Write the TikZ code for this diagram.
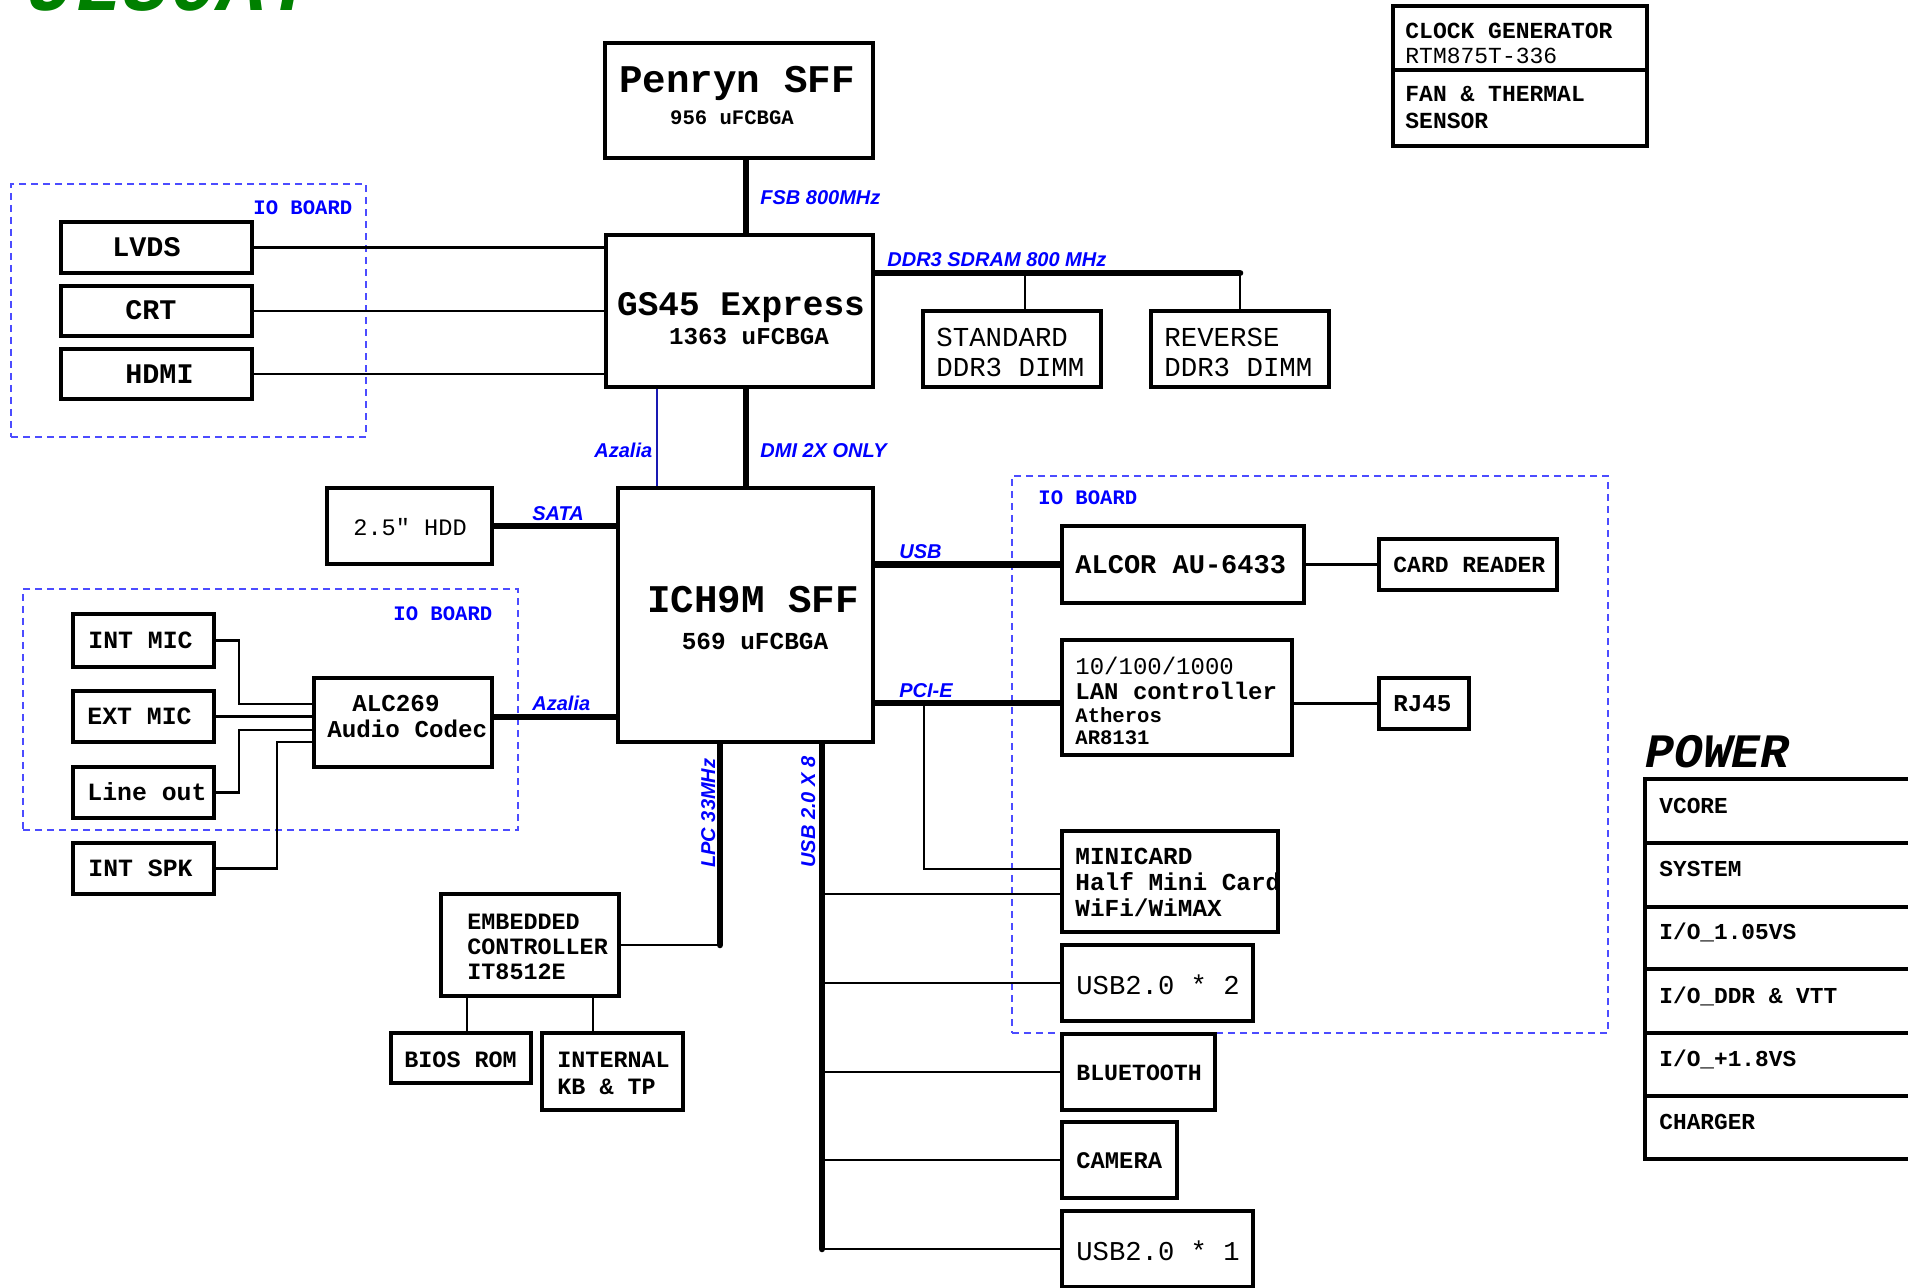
\documentclass[tikz,border=0pt]{standalone}
\usepackage{fontspec}
\usetikzlibrary{fit,calc}
\newfontfamily\mono{Liberation Mono}
\newfontfamily\lsans{Liberation Sans}
\newcommand\fs[1]{\fontsize{#1}{#1}\selectfont}
\newcommand\mkbox[3]{\node[box,fit={#2 #3}] (#1) {};}
\definecolor{iobcol}{rgb}{0.3,0.3,1}
\definecolor{azcol}{rgb}{0.1,0.1,0.7}
\definecolor{titlegreen}{rgb}{0,0.5,0}
\begin{document}
\begin{tikzpicture}[x=0.5pt,y=-0.5pt,
  box/.style={draw,line width=1.75pt,inner sep=0pt},
  iob/.style={draw=iobcol,line width=0.8pt,dash pattern=on 3.5pt off 2.5pt,inner sep=0pt},
  bus/.style={line width=3.3pt,line cap=round},
  wire/.style={line width=1.4pt},
  azl/.style={draw=azcol,line width=1.4pt},
  txt/.style={inner sep=0pt,anchor=base west,font=\mono\bfseries\fs{11.7}},
  rtxt/.style={inner sep=0pt,anchor=base west,font=\mono\fs{11.7}},
  lbl/.style={inner sep=0pt,anchor=base west,text=blue,font=\lsans\bfseries\itshape\fs{10}},
  iol/.style={inner sep=0pt,anchor=base west,text=blue,font=\mono\bfseries\fs{10.3}},
]
\useasboundingbox (0,0) rectangle (1908,1288);
\clip (0,0) rectangle (1908,1288);

% title (cut off at the top edge, as in the reference)
\node[inner sep=0pt,anchor=base west,text=titlegreen,font=\mono\bfseries\itshape\fs{40}] (title) at (26,11) {UL30AT};

% IO board frames
\node[iob,fit={(11,184) (366,437)}] (io1) {};
\node[iob,fit={(23,589) (518,830)}] (io2) {};
\node[iob,fit={(1012,476) (1608,1033)}] (io3) {};
\node[iol] (io1t) at (253,215) {IO BOARD};
\node[iol] (io2t) at (393,621) {IO BOARD};
\node[iol] (io3t) at (1038,505) {IO BOARD};

% boxes
\mkbox{penryn}{(605,43)}{(873,158)}
\mkbox{gs45}{(606,235)}{(873,387)}
\mkbox{lvds}{(61,222)}{(252,273)}
\mkbox{crt}{(61,286)}{(252,336)}
\mkbox{hdmi}{(61,349)}{(252,399)}
\mkbox{stddimm}{(923,311)}{(1101,387)}
\mkbox{revdimm}{(1151,311)}{(1329,387)}
\mkbox{ich}{(618,488)}{(873,742)}
\mkbox{hdd}{(327,488)}{(492,564)}
\mkbox{intmic}{(73,614)}{(214,667)}
\mkbox{extmic}{(73,691)}{(214,742)}
\mkbox{lineout}{(73,767)}{(214,818)}
\mkbox{intspk}{(73,843)}{(214,894)}
\mkbox{alc}{(314,678)}{(492,767)}
\mkbox{alcor}{(1062,526)}{(1304,603)}
\mkbox{cardrd}{(1379,539)}{(1557,590)}
\mkbox{lan}{(1062,640)}{(1292,755)}
\mkbox{rj45}{(1379,678)}{(1469,729)}
\mkbox{minicard}{(1062,831)}{(1278,932)}
\mkbox{usb2}{(1062,945)}{(1253,1021)}
\mkbox{bt}{(1062,1034)}{(1215,1110)}
\mkbox{cam}{(1062,1122)}{(1177,1198)}
\mkbox{usb1}{(1062,1211)}{(1253,1287)}
\mkbox{ec}{(441,894)}{(619,996)}
\mkbox{bios}{(391,1033)}{(531,1083)}
\mkbox{kb}{(542,1033)}{(683,1110)}
\mkbox{clock}{(1393,6)}{(1647,70)}
\mkbox{fan}{(1393,70)}{(1647,146)}
\mkbox{pw1}{(1645,779)}{(1940,843)}
\mkbox{pw2}{(1645,843)}{(1940,907)}
\mkbox{pw3}{(1645,907)}{(1940,969)}
\mkbox{pw4}{(1645,969)}{(1940,1033)}
\mkbox{pw5}{(1645,1033)}{(1940,1096)}
\mkbox{pw6}{(1645,1096)}{(1940,1159)}

% texts
\node[txt,anchor=base,font=\mono\bfseries\fs{19.6}] (tpen1) at (737,93) {Penryn SFF};
\node[txt,anchor=base,font=\mono\bfseries\fs{10.3}] (tpen2) at (732,125) {956 uFCBGA};
\node[txt,anchor=base,font=\mono\bfseries\fs{17.2}] (tgs1) at (741,316) {GS45 Express};
\node[txt,anchor=base,font=\mono\bfseries\fs{12.1}] (tgs2) at (749,345) {1363 uFCBGA};
\node[rtxt,font=\mono\fs{13.7}] (tstd1) at (936,347) {STANDARD};
\node[rtxt,font=\mono\fs{13.7}] (tstd2) at (936,377) {DDR3 DIMM};
\node[rtxt,font=\mono\fs{13.7}] (trev1) at (1164,347) {REVERSE};
\node[rtxt,font=\mono\fs{13.7}] (trev2) at (1164,377) {DDR3 DIMM};
\node[txt,font=\mono\bfseries\fs{14.2}] (tlvds) at (112,257) {LVDS};
\node[txt,font=\mono\bfseries\fs{14.2}] (tcrt) at (125,320) {CRT};
\node[txt,font=\mono\bfseries\fs{14.2}] (thdmi) at (125,384) {HDMI};
\node[txt,anchor=base,font=\mono\bfseries\fs{19.6}] (tich1) at (753,613) {ICH9M SFF};
\node[txt,anchor=base,font=\mono\bfseries\fs{12.2}] (tich2) at (755,650) {569 uFCBGA};
\node[rtxt,font=\mono\fs{11.8}] (thdd) at (353,536) {2.5" HDD};
\node[txt,font=\mono\bfseries\fs{12.4}] (tintmic) at (88,649) {INT MIC};
\node[txt,font=\mono\bfseries\fs{12.4}] (textmic) at (87,725) {EXT MIC};
\node[txt,font=\mono\bfseries\fs{12.4}] (tlineout) at (87,801) {Line out};
\node[txt,font=\mono\bfseries\fs{12.4}] (tintspk) at (88,877) {INT SPK};
\node[txt,font=\mono\bfseries\fs{12.1}] (talc1) at (352,712) {ALC269};
\node[txt,font=\mono\bfseries\fs{12.1}] (talc2) at (327,738) {Audio Codec};
\node[txt,font=\mono\bfseries\fs{13.5}] (talcor) at (1075,574) {ALCOR AU-6433};
\node[txt,font=\mono\bfseries\fs{11.5}] (tcard) at (1393,573) {CARD READER};
\node[rtxt,font=\mono\fs{12}] (tlan1) at (1075,675) {10/100/1000};
\node[txt,font=\mono\bfseries\fs{12}] (tlan2) at (1075,700) {LAN controller};
\node[txt,font=\mono\bfseries\fs{10.3}] (tlan3) at (1075,723) {Atheros};
\node[txt,font=\mono\bfseries\fs{10.3}] (tlan4) at (1075,745) {AR8131};
\node[txt,font=\mono\bfseries\fs{12.1}] (trj45) at (1393,712) {RJ45};
\node[txt,font=\mono\bfseries\fs{12.2}] (tmini1) at (1075,865) {MINICARD};
\node[txt,font=\mono\bfseries\fs{12.2}] (tmini2) at (1075,891) {Half Mini Card};
\node[txt,font=\mono\bfseries\fs{12.2}] (tmini3) at (1075,916) {WiFi/WiMAX};
\node[rtxt,font=\mono\fs{13.6}] (tusb2) at (1076,994) {USB2.0 * 2};
\node[txt,font=\mono\bfseries\fs{11.6}] (tbt) at (1076,1080) {BLUETOOTH};
\node[txt,font=\mono\bfseries\fs{11.9}] (tcam) at (1076,1168) {CAMERA};
\node[rtxt,font=\mono\fs{13.6}] (tusb1) at (1076,1260) {USB2.0 * 1};
\node[txt] (tec1) at (467,929) {EMBEDDED};
\node[txt] (tec2) at (467,955) {CONTROLLER};
\node[txt] (tec3) at (467,979) {IT8512E};
\node[txt] (tbios) at (404,1067) {BIOS ROM};
\node[txt] (tkb1) at (557,1067) {INTERNAL};
\node[txt] (tkb2) at (557,1094) {KB \& TP};
\node[txt,font=\mono\bfseries\fs{11.5}] (tclk1) at (1405,39) {CLOCK GENERATOR};
\node[rtxt,font=\mono\fs{11.5}] (tclk2) at (1405,64) {RTM875T-336};
\node[txt,font=\mono\bfseries\fs{11.5}] (tfan1) at (1405,102) {FAN \& THERMAL};
\node[txt,font=\mono\bfseries\fs{11.5}] (tfan2) at (1405,129) {SENSOR};
\node[txt,font=\mono\bfseries\itshape\fs{24}] (tpower) at (1645,768) {POWER};
\node[txt,font=\mono\bfseries\fs{11.4}] (tpw1) at (1659,814) {VCORE};
\node[txt,font=\mono\bfseries\fs{11.4}] (tpw2) at (1659,877) {SYSTEM};
\node[txt,font=\mono\bfseries\fs{11.4}] (tpw3) at (1659,939) {I/O\_1.05VS};
\node[txt,font=\mono\bfseries\fs{11.4}] (tpw4) at (1659,1003) {I/O\_DDR \& VTT};
\node[txt,font=\mono\bfseries\fs{11.4}] (tpw5) at (1659,1066) {I/O\_+1.8VS};
\node[txt,font=\mono\bfseries\fs{11.4}] (tpw6) at (1659,1129) {CHARGER};

% blue labels
\node[lbl] (lfsb) at (760,205) {FSB 800MHz};
\node[lbl] (lddr) at (887,267) {DDR3 SDRAM 800 MHz};
\node[lbl] (laz1) at (594,458) {Azalia};
\node[lbl] (ldmi) at (760,458) {DMI 2X ONLY};
\node[lbl] (lsata) at (532,521) {SATA};
\node[lbl] (lusb) at (899,559) {USB};
\node[lbl] (lpci) at (899,698) {PCI-E};
\node[lbl] (laz2) at (532,711) {Azalia};
\node[lbl,rotate=90] (llpc) at (715,868) {LPC 33MHz};
\node[lbl,rotate=90] (lusb8) at (815,868) {USB 2.0 X 8};

% helper coordinates
\coordinate (xfsb) at (746,0);
\coordinate (xaz) at (657,0);
\coordinate (yddr) at (0,273);
\coordinate (xstd) at (1025,0);
\coordinate (yaz2) at (0,717);
\coordinate (ypci) at (0,703);
\coordinate (xpm) at (924,0);
\coordinate (ymini) at (0,869);
\coordinate (xlpc) at (720,0);
\coordinate (xbios) at (467,0);
\coordinate (xkb) at (593,0);
\coordinate (xusb) at (822,0);
\coordinate (yminiusb) at (0,894);
\coordinate (xa1) at (239,0);
\coordinate (xa2) at (277,0);
\coordinate (ya1) at (0,704);
\coordinate (ya3) at (0,730);
\coordinate (ya4) at (0,742);

% connectors
\draw[bus] (penryn.south -| xfsb) -- (gs45.north -| xfsb);
\draw[bus] (gs45.south -| xfsb) -- (ich.north -| xfsb);
\draw[azl] (gs45.south -| xaz) -- (ich.north -| xaz);
\draw[wire] (lvds.east) -- (lvds.east -| gs45.west);
\draw[wire] (crt.east) -- (crt.east -| gs45.west);
\draw[wire] (hdmi.east) -- (hdmi.east -| gs45.west);
\draw[bus] (gs45.east |- yddr) -- (revdimm.north |- yddr);
\draw[wire] (stddimm.north -| xstd) -- (yddr -| xstd);
\draw[wire] (revdimm.north) -- (revdimm.north |- yddr);
\draw[bus] (hdd.east) -- (hdd.east -| ich.west);
\draw[bus] (alc.east |- yaz2) -- (ich.west |- yaz2);
\draw[wire] (intmic.east) -- (intmic.east -| xa1) -- (ya1 -| xa1) -- (alc.west |- ya1);
\draw[wire] (extmic.east) -- (extmic.east -| alc.west);
\draw[wire] (lineout.east) -- (lineout.east -| xa1) -- (ya3 -| xa1) -- (alc.west |- ya3);
\draw[wire] (intspk.east) -- (intspk.east -| xa2) -- (ya4 -| xa2) -- (alc.west |- ya4);
\draw[bus] (alcor.west -| ich.east) -- (alcor.west);
\draw[wire] (alcor.east) -- (alcor.east -| cardrd.west);
\draw[bus] (ich.east |- ypci) -- (lan.west |- ypci);
\draw[wire] (rj45.west -| lan.east) -- (rj45.west);
\draw[wire] (ypci -| xpm) -- (ymini -| xpm) -- (minicard.west |- ymini);
\draw[bus] (ich.south -| xlpc) -- (ec.east -| xlpc);
\draw[wire] (ec.east) -- (ec.east -| xlpc);
\draw[wire] (ec.south -| xbios) -- (bios.north -| xbios);
\draw[wire] (ec.south -| xkb) -- (kb.north -| xkb);
\draw[bus] (ich.south -| xusb) -- (usb1.west -| xusb);
\draw[wire] (yminiusb -| xusb) -- (minicard.west |- yminiusb);
\draw[wire] (usb2.west -| xusb) -- (usb2.west);
\draw[wire] (bt.west -| xusb) -- (bt.west);
\draw[wire] (cam.west -| xusb) -- (cam.west);
\draw[wire] (usb1.west -| xusb) -- (usb1.west);
\end{tikzpicture}
\end{document}
